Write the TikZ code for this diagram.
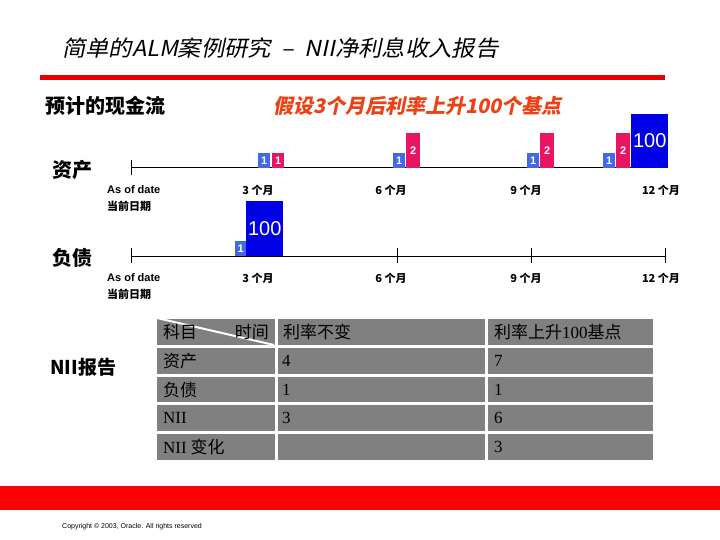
\documentclass[tikz,border=0pt]{standalone}
\usepackage{fontspec}
\setmainfont{Liberation Sans}
\newfontfamily\cjk{Noto Sans CJK SC}
\newfontfamily\cjkit[FakeSlant=0.2]{Noto Sans CJK SC}
\newfontfamily\sernum{Liberation Serif}
\definecolor{linered}{RGB}{230,0,0}
\definecolor{bandred}{RGB}{255,0,0}
\definecolor{hypo}{RGB}{235,65,20}
\definecolor{sblue}{RGB}{65,105,225}
\definecolor{spink}{RGB}{232,20,100}
\definecolor{bigblue}{RGB}{0,0,230}
\definecolor{cellgray}{RGB}{128,128,128}
\tikzset{
  sbox/.style={fill=sblue, text=white, inner sep=0pt, anchor=south west, font=\fontsize{11}{11}\selectfont\bfseries},
  pbox/.style={fill=spink, text=white, inner sep=0pt, anchor=south west, font=\fontsize{11}{11}\selectfont\bfseries},
  bbox/.style={fill=bigblue, text=white, inner sep=0pt, anchor=south west, font=\fontsize{20}{20}\selectfont},
  tl/.style={line width=1pt},
  tlab/.style={font=\cjk\fontsize{11}{11}\selectfont\bfseries, inner sep=0pt},
  dlab/.style={anchor=west, inner sep=0pt, font=\fontsize{11}{11}\selectfont\bfseries},
  side/.style={anchor=west, inner sep=0pt, font=\cjk\fontsize{20}{20}\selectfont\bfseries},
  cell/.style={fill=cellgray},
  ctext/.style={anchor=west, inner sep=0pt, font=\cjk\fontsize{17}{17}\selectfont},
  ntext/.style={anchor=west, inner sep=0pt, font=\sernum\fontsize{17}{17}\selectfont},
}
\begin{document}
\begin{tikzpicture}[x=1pt, y=-1pt]
\useasboundingbox (0,0) rectangle (720,540);
% title
\node[anchor=west, inner sep=0pt, font=\cjkit\fontsize{22}{22}\selectfont] (title) at (62,48) {\scalebox{1.06}[1]{简单的ALM案例研究\ \ –\ \ NII净利息收入报告}};
\fill[linered] (40,75) rectangle (665,80);
% headings
\node[anchor=west, inner sep=0pt, font=\cjk\fontsize{20}{20}\selectfont\bfseries] (cf) at (45,106) {预计的现金流};
\node[anchor=west, inner sep=0pt, text=hypo, font=\cjkit\fontsize{20}{20}\selectfont\bfseries] (hyp) at (273,106) {假设3个月后利率上升100个基点};
% ===== assets timeline =====
\node[side] (asset) at (52,170) {资产};
\coordinate (a0) at (131,168);
\coordinate (a3) at (264,168);
\coordinate (a6) at (398,168);
\coordinate (a9) at (531,168);
\coordinate (a12) at (665,168);
\draw[tl] (a0) -- (a12);
\draw[tl] ([yshift=-7pt]a0) -- ([yshift=8pt]a0);
\foreach \p in {a3,a6,a9,a12} \draw[tl] (\p) -- ([yshift=8pt]\p);
\node[sbox, minimum width=12pt, minimum height=15pt] (ab1) at (258,168) {1};
\node[pbox, minimum width=12pt, minimum height=15pt] (ap1) at (272,168) {1};
\node[sbox, minimum width=12pt, minimum height=15pt] (ab2) at (393,168) {1};
\node[pbox, minimum width=14pt, minimum height=35pt] (ap2) at (406,168) {2};
\node[sbox, minimum width=12pt, minimum height=15pt] (ab3) at (527,168) {1};
\node[pbox, minimum width=14pt, minimum height=35pt] (ap3) at (540,168) {2};
\node[sbox, minimum width=12pt, minimum height=15pt] (ab4) at (603,168) {1};
\node[pbox, minimum width=14pt, minimum height=35pt] (ap4) at (616,168) {2};
\node[bbox, minimum width=37pt, minimum height=54pt] (abig) at (631,168) {100};
\node[dlab] (aod1) at (107,190) {As of date};
\node[dlab, font=\cjk\fontsize{11}{11}\selectfont\bfseries] (cur1) at (107,206) {当前日期};
\node[tlab] (am3) at (258,190) {3 个月};
\node[tlab] (am6) at (391,190) {6 个月};
\node[tlab] (am9) at (526,190) {9 个月};
\node[tlab] (am12) at (661,190) {12 个月};
% ===== liabilities timeline =====
\node[side] (liab) at (52,258) {负债};
\coordinate (l0) at (131,256);
\coordinate (l3) at (264,256);
\coordinate (l6) at (397,256);
\coordinate (l9) at (531,256);
\coordinate (l12) at (665,256);
\draw[tl] (l0) -- (l12);
\draw[tl] ([yshift=-7pt]l0) -- ([yshift=8pt]l0);
\draw[tl] (l3) -- ([yshift=8pt]l3);
\foreach \p in {l6,l9,l12} \draw[tl] ([yshift=-7pt]\p) -- ([yshift=8pt]\p);
\node[bbox, minimum width=37pt, minimum height=55pt] (lbig) at (246,256) {100};
\node[sbox, minimum width=11pt, minimum height=15pt] (lb1) at (235,256) {1};
\node[dlab] (aod2) at (107,278) {As of date};
\node[dlab, font=\cjk\fontsize{11}{11}\selectfont\bfseries] (cur2) at (107,294) {当前日期};
\node[tlab] (lm3) at (258,278) {3 个月};
\node[tlab] (lm6) at (391,278) {6 个月};
\node[tlab] (lm9) at (526,278) {9 个月};
\node[tlab] (lm12) at (661,278) {12 个月};
% ===== NII table =====
\node[anchor=west, inner sep=0pt, font=\cjk\fontsize{19}{19}\selectfont\bfseries] (nii) at (50,367) {NII报告};
\foreach \ya/\yb in {319/345, 348/374, 377/402, 405/431, 434/460} {
  \fill[cell] (157,\ya) rectangle (275,\yb);
  \fill[cell] (278,\ya) rectangle (485,\yb);
  \fill[cell] (488,\ya) rectangle (653,\yb);
}
\draw[white, line width=2pt] (157,318) -- (274,345);
\node[ctext] (h1) at (163,332) {科目};
\node[ctext, anchor=east] (h2) at (269,332) {时间};
\node[ctext] (h3) at (283,332) {利率不变};
\node[ctext] (h4) at (494,332) {利率上升{\sernum 100}基点};
\node[ctext] (r1) at (163,361) {资产};
\node[ntext] (r1a) at (282,361) {4};
\node[ntext] (r1b) at (494,361) {7};
\node[ctext] (r2) at (163,390) {负债};
\node[ntext] (r2a) at (282,390) {1};
\node[ntext] (r2b) at (494,390) {1};
\node[ntext] (r3) at (163,418) {NII};
\node[ntext] (r3a) at (282,418) {3};
\node[ntext] (r3b) at (494,418) {6};
\node[ctext] (r4) at (163,447) {{\sernum NII} 变化};
\node[ntext] (r4b) at (494,447) {3};
% footer
\fill[bandred] (0,486) rectangle (720,510);
\node[anchor=west, inner sep=0pt, font=\fontsize{7}{7}\selectfont] (copy) at (62,527) {Copyright © 2003, Oracle. All rights reserved};
\end{tikzpicture}
\end{document}
